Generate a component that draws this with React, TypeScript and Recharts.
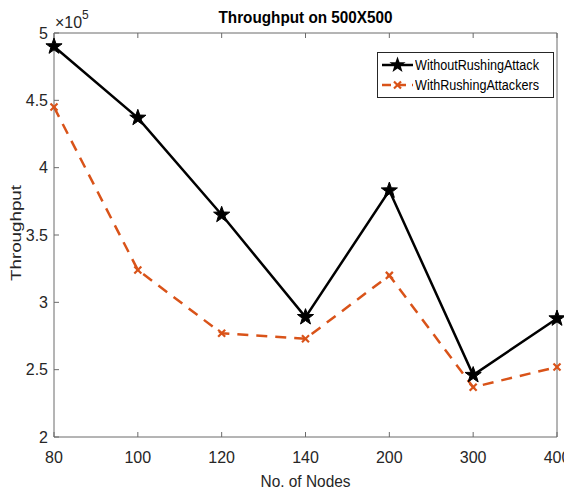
import { LineChart, Line, XAxis, YAxis, Legend } from "recharts";

const nodes = ["80", "100", "120", "140", "200", "300", "400"];
const withoutAttack = [490000, 437000, 365000, 289000, 383000, 246000, 288000];
const withAttackers = [445000, 324000, 277000, 273000, 320000, 237000, 252000];
const yTicks = [200000, 250000, 300000, 350000, 400000, 450000, 500000];

const data = nodes.map((n, i) => ({
  n,
  without: withoutAttack[i],
  withAtk: withAttackers[i],
}));

const FONT = "'Liberation Sans', Arial, sans-serif";
const AXIS = "#6b6b6b";
const TXT = "#262626";
const ORANGE = "#D95319";

function starPath(cx: number, cy: number, ro: number, ri: number) {
  const pts: string[] = [];
  for (let k = 0; k < 10; k++) {
    const r = k % 2 === 0 ? ro : ri;
    const a = -Math.PI / 2 + (k * Math.PI) / 5;
    pts.push(`${(cx + r * Math.cos(a)).toFixed(2)},${(cy + r * Math.sin(a)).toFixed(2)}`);
  }
  return pts.join(" ");
}

const StarDot = (p: any) => {
  const { cx, cy, index } = p;
  if (cx == null || cy == null) return <g key={`s${index}`} />;
  return <polygon key={`s${index}`} points={starPath(cx, cy, 8.5, 3.4)} fill="#000" stroke="#000" strokeWidth={1} />;
};

const CrossDot = (p: any) => {
  const { cx, cy, index } = p;
  if (cx == null || cy == null) return <g key={`c${index}`} />;
  const d = 3.5;
  return (
    <g key={`c${index}`} stroke={ORANGE} strokeWidth={2.2}>
      <line x1={cx - d} y1={cy - d} x2={cx + d} y2={cy + d} />
      <line x1={cx - d} y1={cy + d} x2={cx + d} y2={cy - d} />
    </g>
  );
};

const BottomTick = (p: any) => {
  const { x, y, payload } = p;
  return (
    <g>
      <line x1={x} y1={y} x2={x} y2={y - 5} stroke={AXIS} />
      <text x={x} y={y + 26} textAnchor="middle" fontSize={16} fill={TXT} fontFamily={FONT}>
        {payload.value}
      </text>
    </g>
  );
};

const TopTick = (p: any) => {
  const { x, y } = p;
  return <line x1={x} y1={y} x2={x} y2={y + 5} stroke={AXIS} />;
};

const LeftTick = (p: any) => {
  const { x, y, payload } = p;
  return (
    <g>
      <line x1={x} y1={y} x2={x + 5} y2={y} stroke={AXIS} />
      <text x={x - 6} y={y} dy="0.36em" textAnchor="end" fontSize={16} fill={TXT} fontFamily={FONT}>
        {String(payload.value / 100000)}
      </text>
    </g>
  );
};

const RightTick = (p: any) => {
  const { x, y } = p;
  return <line x1={x} y1={y} x2={x - 5} y2={y} stroke={AXIS} />;
};

const TitleLabel = (p: any) => {
  const vb = p.viewBox || { x: 54, y: 0, width: 503, height: 33 };
  return (
    <g fontFamily={FONT}>
      <text x={vb.x + vb.width / 2} y={23} textAnchor="middle" fontSize={16} fontWeight="bold" fill="#000" textLength={174} lengthAdjust="spacingAndGlyphs">
        Throughput on 500X500
      </text>
      <text x={vb.x + 1} y={28} fontSize={16} fill={TXT} textLength={27} lengthAdjust="spacingAndGlyphs">
        ×10
      </text>
      <text x={vb.x + 28} y={19} fontSize={12} fill={TXT}>
        5
      </text>
    </g>
  );
};

const YLabel = (p: any) => {
  const vb = p.viewBox || { x: 0, y: 33, width: 54, height: 404 };
  const cy = vb.y + vb.height / 2 - 2;
  return (
    <text x={15} y={cy} transform={`rotate(-90 15 ${cy})`} textAnchor="middle" dominantBaseline="central" fontSize={15} fill={TXT} fontFamily={FONT} textLength={96} lengthAdjust="spacingAndGlyphs">
      Throughput
    </text>
  );
};

const XLabel = (p: any) => {
  const vb = p.viewBox || { x: 54, y: 437, width: 503, height: 56 };
  return (
    <text x={vb.x + vb.width / 2} y={487} textAnchor="middle" fontSize={16} fill={TXT} fontFamily={FONT} textLength={90} lengthAdjust="spacingAndGlyphs">
      No. of Nodes
    </text>
  );
};

const legendText: any = {
  display: "inline-block",
  transform: "scaleX(0.9)",
  transformOrigin: "left center",
  whiteSpace: "nowrap",
};

const LegendBox = () => (
  <div
    style={{
      border: "1px solid #262626",
      background: "#fff",
      width: 177,
      height: 46,
      boxSizing: "border-box",
      paddingTop: 2,
      fontFamily: FONT,
      fontSize: 14,
      color: "#000",
    }}
  >
    <div style={{ display: "flex", alignItems: "center", height: 20 }}>
      <svg width={37} height={20} style={{ display: "block", flexShrink: 0 }}>
        <line x1={4} y1={10} x2={35} y2={10} stroke="#000" strokeWidth={2.5} />
        <polygon points={starPath(19.5, 10, 8.5, 3.4)} fill="#000" />
      </svg>
      <span style={legendText}>WithoutRushingAttack</span>
    </div>
    <div style={{ display: "flex", alignItems: "center", height: 20 }}>
      <svg width={37} height={20} style={{ display: "block", flexShrink: 0 }}>
        <line x1={4} y1={10} x2={35} y2={10} stroke={ORANGE} strokeWidth={2.5} strokeDasharray="9 6" />
        <g stroke={ORANGE} strokeWidth={2.2}>
          <line x1={16} y1={6.5} x2={23} y2={13.5} />
          <line x1={16} y1={13.5} x2={23} y2={6.5} />
        </g>
      </svg>
      <span style={legendText}>WithRushingAttackers</span>
    </div>
  </div>
);

export default function App() {
  return (
    <div style={{ position: "absolute", left: 0, top: 0, background: "#fff" }}>
      <LineChart width={564} height={493} data={data} margin={{ top: 0, right: 5, left: 0, bottom: 0 }}>
        <XAxis
          xAxisId="b"
          dataKey="n"
          height={56}
          tickSize={0}
          tickMargin={0}
          tick={<BottomTick />}
          stroke={AXIS}
          interval={0}
          label={<XLabel />}
        />
        <XAxis
          xAxisId="t"
          dataKey="n"
          orientation="top"
          height={33}
          tickSize={0}
          tickMargin={0}
          tick={<TopTick />}
          stroke={AXIS}
          interval={0}
          label={<TitleLabel />}
        />
        <YAxis
          yAxisId="l"
          width={54}
          domain={[200000, 500000]}
          ticks={yTicks}
          tickSize={0}
          tickMargin={0}
          tick={<LeftTick />}
          stroke={AXIS}
          interval={0}
          label={<YLabel />}
        />
        <YAxis
          yAxisId="r"
          orientation="right"
          width={2}
          domain={[200000, 500000]}
          ticks={yTicks}
          tickSize={0}
          tickMargin={0}
          tick={<RightTick />}
          stroke={AXIS}
          interval={0}
        />
        <Legend
          layout="horizontal"
          verticalAlign="middle"
          align="center"
          content={<LegendBox />}
          wrapperStyle={{ left: 377, top: 52, width: 177 }}
        />
        <Line
          xAxisId="b"
          yAxisId="l"
          dataKey="without"
          name="WithoutRushingAttack"
          stroke="#000"
          strokeWidth={2.5}
          dot={StarDot}
          activeDot={false}
          isAnimationActive={false}
        />
        <Line
          xAxisId="b"
          yAxisId="l"
          dataKey="withAtk"
          name="WithRushingAttackers"
          stroke={ORANGE}
          strokeWidth={2.5}
          strokeDasharray="11 8"
          dot={CrossDot}
          activeDot={false}
          isAnimationActive={false}
        />
      </LineChart>
    </div>
  );
}
